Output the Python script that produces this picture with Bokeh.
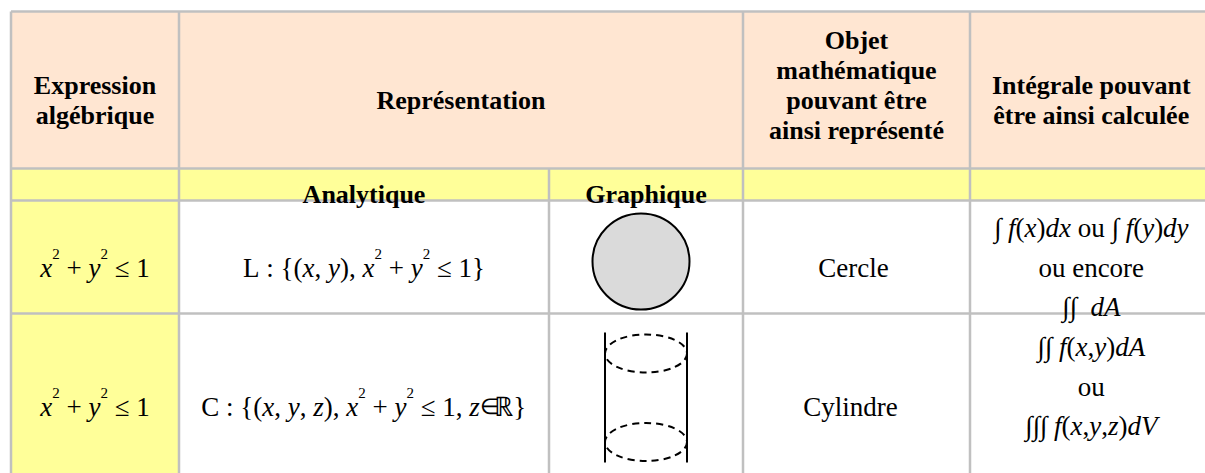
from bokeh.plotting import figure
from bokeh.models import Range1d, ColumnDataSource
from bokeh.embed import file_html
from bokeh.resources import INLINE
from bokeh.core.properties import value, field

# ---------------- table contents ----------------
header_cells = ["Expression\nalgébrique",
                "Représentation",
                "Objet\nmathématique\npouvant être\nainsi représenté\n",
                "Intégrale pouvant\nêtre ainsi calculée"]
header_spans = [(0, 1), (1, 3), (3, 4), (4, 5)]
sub_headers = ["", "Analytique", "Graphique", "", ""]
expressions = ["*x*^2 + *y*^2 ≤ 1", "*x*^2 + *y*^2 ≤ 1"]
analytic = ["L : {(*x*, *y*), *x*^2 + *y*^2 ≤ 1}",
            "C : {(*x*, *y*, *z*), *x*^2 + *y*^2 ≤ 1, *z*∈ℝ}"]
graphic = ["disk", "cylinder"]
objects = ["Cercle", "Cylindre"]
integrals = [["∫ *f*(*x*)*dx* ou ∫ *f*(*y*)*dy*", "ou encore", "∫∫  *dA*"],
             ["∫∫ *f*(*x*,*y*)*dA*", "ou", "∫∫∫ *f*(*x*,*y*,*z*)*dV*", ""]]

# ---------------- layout (page pixels) ----------------
W, H = 1205, 473
COL = [10.5, 178.5, 548.5, 742.5, 969.5, 1212]
ROW = [11, 168, 200, 313, 478]
PEACH, YELLOW, WHITE, GRID = "#FFE6D2", "#FFFF99", "#FFFFFF", "#C0C0C0"
FONT = "Liberation Serif"
HEAD_SIZE, BODY_SIZE, SUP_SIZE = 26, 27, 15
SMALL_CHARS = {'∈': 0.8}

REG = {' ': 250, '(': 333, ')': 333, '+': 564, ',': 250, ':': 278, '1': 500, '2': 500,
       'C': 667, 'L': 611, '{': 480, '}': 480, 'o': 500, 'u': 500, 'e': 444, 'n': 500,
       'c': 444, 'r': 333, '≤': 549, '∈': 667, 'ℝ': 722, '∫': 274}
ITA = {'x': 444, 'y': 444, 'z': 389, 'f': 278, 'd': 500, 'A': 611, 'V': 611,
       '(': 333, ')': 333, ',': 250}

p = figure(width=W, height=H, x_range=Range1d(0, W), y_range=Range1d(H, 0),
           output_backend="svg", toolbar_location=None, tools="", min_border=0,
           x_axis_location=None, y_axis_location=None)
p.xgrid.visible = False
p.ygrid.visible = False
p.outline_line_color = None
p.background_fill_color = "white"
p.border_fill_color = "white"

# ---------------- cell backgrounds ----------------
ql, qr, qt, qb, qc = [], [], [], [], []
for r in range(4):
    for c in range(5):
        if r == 0:
            col = PEACH
        elif r == 1:
            col = YELLOW
        else:
            col = YELLOW if c == 0 else WHITE
        ql.append(COL[c]); qr.append(COL[c + 1]); qt.append(ROW[r]); qb.append(ROW[r + 1]); qc.append(col)
p.quad(left=ql, right=qr, top=qt, bottom=qb, fill_color=qc, line_color=None)

# ---------------- grid lines ----------------
sx0, sy0, sx1, sy1 = [], [], [], []
for i, x in enumerate(COL):
    top = ROW[1] if i == 2 else ROW[0]
    sx0.append(x); sy0.append(top); sx1.append(x); sy1.append(ROW[-1])
for y in ROW:
    sx0.append(COL[0]); sy0.append(y); sx1.append(COL[-1]); sy1.append(y)
p.segment(x0=sx0, y0=sy0, x1=sx1, y1=sy1, line_color=GRID, line_width=2.5)

# ---------------- header texts ----------------
hx, hy, ht = [], [], []
rc = (ROW[0] + ROW[1]) / 2
for txt, (c0, c1) in zip(header_cells, header_spans):
    lines = txt.split("\n")
    n = len(lines)
    cx = (COL[c0] + COL[c1]) / 2
    for i, ln in enumerate(lines):
        if ln:
            hx.append(cx); hy.append(rc + 10 + (i - (n - 1) / 2) * 30); ht.append(ln)
rc = (ROW[1] + ROW[2]) / 2
for c, txt in enumerate(sub_headers):
    if txt:
        hx.append((COL[c] + COL[c + 1]) / 2); hy.append(rc + 10); ht.append(txt)
p.text(x=hx, y=hy, text=ht, text_font=value(FONT), text_font_size=f"{HEAD_SIZE}px",
       text_font_style="bold", text_align="center", text_baseline="alphabetic", text_color="black")

# ---------------- rich body texts ----------------
rx, ry, rt, rs, rz = [], [], [], [], []


def tokens(s):
    segs = []
    italic = False
    i = 0
    while i < len(s):
        ch = s[i]
        if ch == '*':
            italic = not italic
            i += 1
            continue
        sup = False
        if ch == '^':
            sup = True
            i += 1
            ch = s[i]
        mergeable = (ch != ' ' and ch not in SMALL_CHARS and segs and segs[-1][1] == italic
                     and segs[-1][2] == sup and segs[-1][0][-1] != ' '
                     and segs[-1][0][-1] not in SMALL_CHARS)
        if mergeable:
            segs[-1][0] += ch
        else:
            segs.append([ch, italic, sup])
        i += 1
    return segs


def place(s, cx, base):
    segs = tokens(s)
    widths, sizes = [], []
    for t, it, sup in segs:
        tab = ITA if it else REG
        fs = SUP_SIZE if sup else BODY_SIZE * SMALL_CHARS.get(t, 1.0)
        sizes.append(fs)
        widths.append(sum(tab.get(ch, REG.get(ch, 500)) for ch in t) * fs / 1000)
    x = cx - sum(widths) / 2
    for (t, it, sup), w, fs in zip(segs, widths, sizes):
        if t.strip():
            rx.append(x)
            ry.append(base - (14 if sup else 0))
            rt.append(t)
            rs.append("italic" if it else "normal")
            rz.append(f"{fs:.1f}px")
        x += w


def block(lines, cx, rcenter, spacing=39.5):
    n = len(lines)
    for i, ln in enumerate(lines):
        if ln:
            place(ln, cx, rcenter + 10.5 + (i - (n - 1) / 2) * spacing)


for k in range(len(expressions)):
    r = k + 2
    rcen = (ROW[r] + ROW[r + 1]) / 2
    block([expressions[k]], (COL[0] + COL[1]) / 2, rcen)
    block([analytic[k]], (COL[1] + COL[2]) / 2, rcen)
    block([objects[k]], (COL[3] + COL[4]) / 2, rcen)
    block(integrals[k], (COL[4] + COL[5]) / 2, rcen)

src = ColumnDataSource(dict(x=rx, y=ry, text=rt, style=rs, size=rz))
p.text(x="x", y="y", text="text", source=src, text_font=value(FONT),
       text_font_size=field("size"), text_font_style=field("style"),
       text_align="left", text_baseline="alphabetic", text_color="black")

# ---------------- graphics ----------------
for k, g in enumerate(graphic):
    r = k + 2
    cx = (COL[2] + COL[3]) / 2
    cy = (ROW[r] + ROW[r + 1]) / 2
    if g == "disk":
        p.ellipse(x=[cx - 5], y=[cy + 4.5], width=[97], height=[96],
                  fill_color="#DADADA", line_color="black", line_width=2)
    else:
        w, h = 82, 130
        p.segment(x0=[cx - w / 2, cx + w / 2], y0=[cy + 1.5 - h / 2] * 2,
                  x1=[cx - w / 2, cx + w / 2], y1=[cy + 1.5 + h / 2] * 2,
                  line_color="black", line_width=2)
        p.ellipse(x=[cx, cx], y=[cy - 42.5, cy + 46], width=[w, w], height=[38, 38],
                  fill_alpha=0, line_color="black", line_width=2, line_dash="7 5")

open("out.html", "w").write(file_html(p, INLINE))
